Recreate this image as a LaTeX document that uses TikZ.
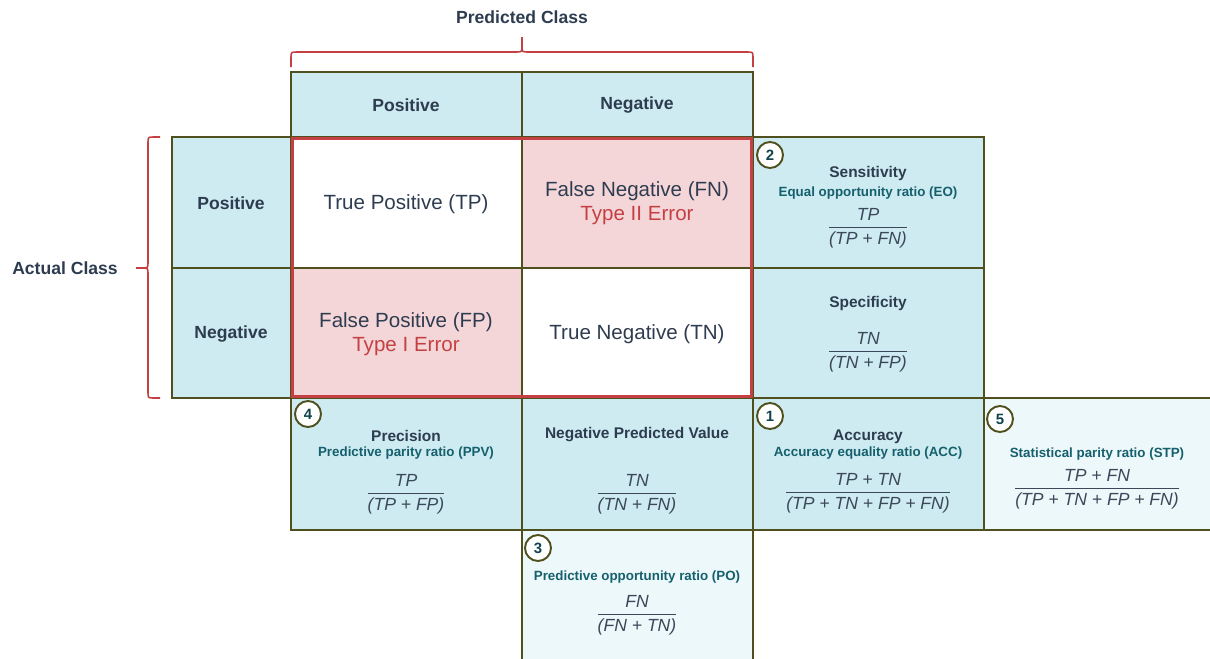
\documentclass[tikz,border=0pt]{standalone}
\usepackage{amsmath}
\usepackage{fontspec}
\setmainfont{Liberation Sans}
\definecolor{txtdark}{RGB}{46,60,80}
\definecolor{teal}{RGB}{22,96,110}
\definecolor{cellblue}{RGB}{205,235,240}
\definecolor{celllight}{RGB}{236,248,249}
\definecolor{cellpink}{RGB}{244,214,216}
\definecolor{redline}{RGB}{196,64,66}
\definecolor{olive}{RGB}{80,80,30}
\definecolor{fracgray}{RGB}{60,72,90}
\newcommand{\myfrac}[2]{\(\dfrac{\hbox{\itshape #1}}{\hbox{\itshape #2}}\)}
\begin{document}
\begin{tikzpicture}[x=0.02cm,y=-0.02cm,
  cellbox/.style={draw=olive,line width=1.1pt},
  bracepath/.style={draw=redline,line width=0.9pt},
  hdr/.style={font=\fontsize{10}{12}\selectfont\bfseries,text=txtdark},
  mtitle/.style={font=\fontsize{8.8}{10.5}\selectfont\bfseries,text=txtdark},
  msub/.style={font=\fontsize{7.6}{9}\selectfont\bfseries,text=teal},
  mfrac/.style={font=\fontsize{10}{12}\selectfont,text=fracgray},
  cellt/.style={font=\fontsize{11.7}{14}\selectfont,text=txtdark},
  errt/.style={font=\fontsize{11.7}{14}\selectfont,text=redline},
  badge/.style={circle,draw=olive,line width=1.1pt,fill=white,minimum size=0.52cm,inner sep=0pt,font=\fontsize{8.5}{10}\selectfont\bfseries,text=teal!70!black}]
\useasboundingbox (0,0) rectangle (1210,659);
% header cells
\filldraw[cellbox,fill=cellblue] (291,72) rectangle (522,137);
\filldraw[cellbox,fill=cellblue] (522,72) rectangle (753,137);
% row header cells
\filldraw[cellbox,fill=cellblue] (172,137) rectangle (291,268);
\filldraw[cellbox,fill=cellblue] (172,268) rectangle (291,398);
% matrix
\filldraw[cellbox,fill=white] (291,137) rectangle (522,268);
\filldraw[cellbox,fill=cellpink] (522,137) rectangle (753,268);
\filldraw[cellbox,fill=cellpink] (291,268) rectangle (522,398);
\filldraw[cellbox,fill=white] (522,268) rectangle (753,398);
% metric cells
\filldraw[cellbox,fill=cellblue] (753,137) rectangle (984,268);
\filldraw[cellbox,fill=cellblue] (753,268) rectangle (984,398);
\filldraw[cellbox,fill=cellblue] (291,398) rectangle (522,530);
\filldraw[cellbox,fill=cellblue] (522,398) rectangle (753,530);
\filldraw[cellbox,fill=cellblue] (753,398) rectangle (984,530);
\filldraw[cellbox,fill=celllight] (984,398) rectangle (1212,530);
\filldraw[cellbox,fill=celllight] (522,530) rectangle (753,661);
% red border
\draw[redline,line width=1.7pt] (292.5,138.5) rectangle (751.5,396.5);
% braces
\coordinate (bt1) at (291,67);
\coordinate (bt2) at (753,67);
\coordinate (btip) at (522,37);
\coordinate (bl1) at (160,137);
\coordinate (bl2) at (160,398);
\coordinate (bltip) at (136,268);
\draw[bracepath] (bt1) -- (291,58) .. controls (291,52) .. (297,52) -- (516,52) .. controls (522,52) .. (522,46) -- (btip);
\draw[bracepath] (bt2) -- (753,58) .. controls (753,52) .. (747,52) -- (528,52) .. controls (522,52) .. (522,46);
\draw[bracepath] (bl1) -- (154,137) .. controls (148,137) .. (148,143) -- (148,262) .. controls (148,268) .. (142,268) -- (bltip);
\draw[bracepath] (bl2) -- (154,398) .. controls (148,398) .. (148,392) -- (148,274) .. controls (148,268) .. (142,268);
% labels
\node[hdr] (pc) at (522,17) {Predicted Class};
\node[hdr] (ac) at (65,268) {Actual Class};
\node[hdr] (hp) at (406,105) {Positive};
\node[hdr] (hn) at (637,105) {Negative};
\node[hdr] (rp) at (231,203) {Positive};
\node[hdr] (rn) at (231,334) {Negative};
\node[cellt] (tp) at (406,204) {True Positive (TP)};
\node[cellt] (fn) at (637,191) {False Negative (FN)};
\node[errt] (fne) at (637,216) {Type II Error};
\node[cellt] (fp) at (406,322) {False Positive (FP)};
\node[errt] (fpe) at (406,347) {Type I Error};
\node[cellt] (tn) at (637,334) {True Negative (TN)};
% sensitivity
\node[badge] (b2) at (770,155) {2};
\node[mtitle] (sens) at (868,174) {Sensitivity};
\node[msub] (eo) at (868,193) {Equal opportunity ratio (EO)};
\node[mfrac] (fsens) at (868,228) {\myfrac{TP}{(TP + FN)}};
% specificity
\node[mtitle] (spec) at (868,303) {Specificity};
\node[mfrac] (fspec) at (868,352) {\myfrac{TN}{(TN + FP)}};
% precision
\node[badge] (b4) at (308,414) {4};
\node[mtitle] (prec) at (406,436) {Precision};
\node[msub] (ppv) at (406,453) {Predictive parity ratio (PPV)};
\node[mfrac] (fprec) at (406,494) {\myfrac{TP}{(TP + FP)}};
% NPV
\node[mtitle] (npv) at (637,435) {Negative Predicted Value};
\node[mfrac] (fnpv) at (637,494) {\myfrac{TN}{(TN + FN)}};
% accuracy
\node[badge] (b1) at (770,416) {1};
\node[mtitle] (acc) at (868,437) {Accuracy};
\node[msub] (acce) at (868,453) {Accuracy equality ratio (ACC)};
\node[mfrac] (facc) at (868,493) {\myfrac{TP + TN}{(TP + TN + FP + FN)}};
% STP
\node[badge] (b5) at (1000,419) {5};
\node[msub] (stp) at (1097,454) {Statistical parity ratio (STP)};
\node[mfrac] (fstp) at (1097,489) {\myfrac{TP + FN}{(TP + TN + FP + FN)}};
% PO
\node[badge] (b3) at (538,548) {3};
\node[msub] (po) at (637,577) {Predictive opportunity ratio (PO)};
\node[mfrac] (fpo) at (637,615) {\myfrac{FN}{(FN + TN)}};
\end{tikzpicture}
\end{document}
